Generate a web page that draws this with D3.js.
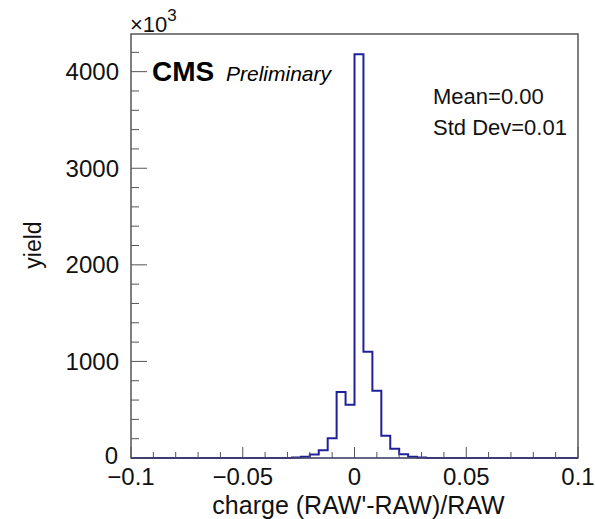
<!DOCTYPE html>
<html>
<head>
<meta charset="utf-8">
<script src="https://cdn.jsdelivr.net/npm/d3@7"></script>
<style>
  html, body { margin: 0; padding: 0; background: #fff; }
  svg { display: block; font-family: "Liberation Sans", Arial, Helvetica, sans-serif; }
</style>
</head>
<body>
<svg id="chart" width="595" height="519"></svg>
<script>
// ---- data ----
const binLow = -0.1;
const binHigh = 0.1;
const binCount = 50;
// bin contents (yield), 50 bins of width 0.004 from -0.1 to 0.1
const binValues = [
  0, 0, 0, 0, 0, 0, 0, 0, 0, 0,
  0, 0, 0, 0, 0, 0, 0, 0, 4, 12,
  35, 80, 205, 683, 552, 4180, 1100, 697, 230, 96,
  38, 13, 4, 1, 0, 0, 0, 0, 0, 0,
  0, 0, 0, 0, 0, 0, 0, 0, 0, 0
];
const xMajorTicks = [-0.1, -0.05, 0, 0.05, 0.1];
const xTickLabels = ["\u22120.1", "\u22120.05", "0", "0.05", "0.1"];
const yMajorTicks = [0, 1000, 2000, 3000, 4000];
const yTickLabels = ["0", "1000", "2000", "3000", "4000"];
const yMax = 4390;
const xTitle = "charge (RAW'-RAW)/RAW";
const yTitle = "yield";
const statsLines = ["Mean=0.00", "Std Dev=0.01"];

// ---- layout ----
const L = 131, R = 578, T = 34, B = 458;
const svg = d3.select("#chart");
const x = d3.scaleLinear().domain([binLow, binHigh]).range([L, R]);
const y = d3.scaleLinear().domain([0, yMax]).range([B, T]);
const frameColor = "#555";
const histColor = "#20209c";
const textColor = "#111";

// histogram outline (step)
const w = (binHigh - binLow) / binCount;
const pts = [];
pts.push([x(binLow), y(0)]);
binValues.forEach((v, i) => {
  const x0 = binLow + i * w, x1 = x0 + w;
  pts.push([x(x0), y(v)]);
  pts.push([x(x1), y(v)]);
});
pts.push([x(binHigh), y(0)]);
svg.append("path")
  .attr("d", d3.line()(pts))
  .attr("fill", "none")
  .attr("stroke", histColor)
  .attr("stroke-width", 2)
  .attr("stroke-linejoin", "miter");

// x axis ticks
const xMinor = d3.range(-0.1, 0.1001, 0.01).map(v => +v.toFixed(3));
svg.append("g").selectAll("line").data(xMinor).join("line")
  .attr("x1", d => x(d)).attr("x2", d => x(d))
  .attr("y1", B).attr("y2", d => B - (xMajorTicks.some(m => Math.abs(m - d) < 1e-9) ? 11 : 6))
  .attr("stroke", frameColor).attr("stroke-width", 1);
svg.append("g").selectAll("text").data(xMajorTicks).join("text")
  .attr("x", d => x(d)).attr("y", 485)
  .attr("text-anchor", "middle")
  .attr("font-size", 24)
  .attr("fill", textColor)
  .text((d, i) => xTickLabels[i]);

// y axis ticks
const yMinor = d3.range(0, yMax, 200);
svg.append("g").selectAll("line").data(yMinor).join("line")
  .attr("x1", L).attr("x2", d => L + (d % 1000 === 0 ? 16 : 8))
  .attr("y1", d => y(d)).attr("y2", d => y(d))
  .attr("stroke", frameColor).attr("stroke-width", 1);
svg.append("g").selectAll("text").data(yMajorTicks).join("text")
  .attr("x", d => d === 0 ? 118 : 119).attr("y", d => y(d) - (d === 0 ? 3 : 0))
  .attr("dy", "0.36em")
  .attr("text-anchor", "end")
  .attr("font-size", 24)
  .attr("fill", textColor)
  .text((d, i) => yTickLabels[i]);

// frame
svg.append("rect")
  .attr("x", L).attr("y", T).attr("width", R - L).attr("height", B - T)
  .attr("fill", "none").attr("stroke", frameColor).attr("stroke-width", 1.5);
svg.append("line").attr("x1", L).attr("x2", R).attr("y1", B).attr("y2", B)
  .attr("stroke", histColor).attr("stroke-width", 1).attr("opacity", 0.5);

// exponent label
const ex = svg.append("text").attr("x", 130).attr("y", 32).attr("font-size", 22).attr("fill", textColor);
ex.append("tspan").text("\u00d710");
ex.append("tspan").attr("dy", -11).attr("font-size", 17).text("3");

// axis titles
svg.append("text").attr("x", (L + R) / 2 + 4).attr("y", 514)
  .attr("text-anchor", "middle").attr("font-size", 25).attr("fill", textColor).text(xTitle);
svg.append("text")
  .attr("transform", `translate(41,${(T + B) / 2 - 1}) rotate(-90)`)
  .attr("text-anchor", "middle").attr("font-size", 23).attr("fill", textColor).text(yTitle);

// CMS label
svg.append("text").attr("x", 152).attr("y", 81).attr("font-size", 28)
  .attr("font-weight", "bold").attr("fill", "#000").text("CMS");
svg.append("text").attr("x", 226).attr("y", 81).attr("font-size", 21)
  .attr("font-style", "italic").attr("fill", "#000").text("Preliminary");

// stats
svg.append("g").selectAll("text").data(statsLines).join("text")
  .attr("x", 433).attr("y", (d, i) => 104 + i * 31)
  .attr("font-size", 22).attr("fill", textColor).text(d => d);
</script>
</body>
</html>
